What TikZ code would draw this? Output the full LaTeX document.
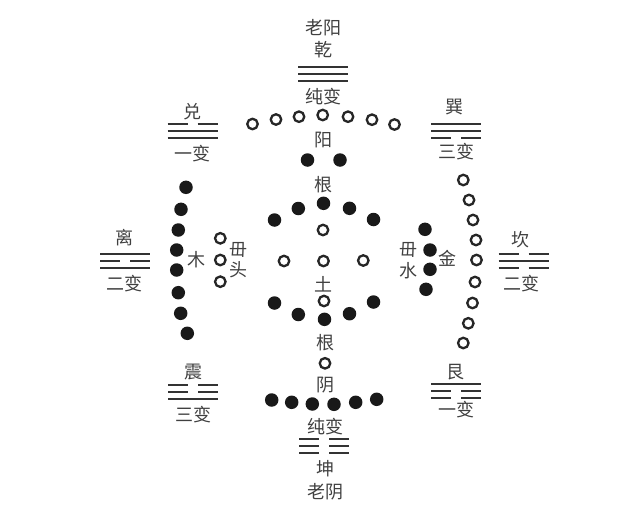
\documentclass[tikz,border=0pt]{standalone}
\usepackage{fontspec}
\setmainfont{Noto Sans CJK SC}
\usepackage{xcolor}
\usepackage{tikz}
\usetikzlibrary{positioning}

\newcommand{\yangyao}[2]{\draw[yao] (#1-25,#2) -- (#1+25,#2);}
\newcommand{\yinyao}[2]{\draw[yao] (#1-25,#2) -- (#1-5,#2) (#1+5,#2) -- (#1+25,#2);}

\begin{document}
\begin{tikzpicture}[x=1pt, y=-1pt, every node/.style={inner sep=0pt},
  word/.style={font=\fontsize{18}{18}\selectfont, text=black!75},
  yangdot/.style={circle, draw=black!85, line width=2.3pt, fill=white, minimum size=10.5pt},
  yindot/.style={circle, fill=black!90, minimum size=13.5pt},
  yao/.style={line width=2.3pt, black!80},
]
  \useasboundingbox (0,0) rectangle (640,522);

% Top: qian
  \node[word] (laoyang) at (323,28) {老阳};
  \node[word] (qian) at (323,50) {乾};
  \yangyao{323}{67} \yangyao{323}{74} \yangyao{323}{81}
  \node[word] (qian-bian) at (323,97) {纯变};

  \foreach \x/\y [count=\i] in {252.5/124, 276/119.5, 299/116.7, 322.7/115, 348/116.7, 372/119.7, 394.5/124.5}
    \node[yangdot] (top-\i) at (\x,\y) {};
  \node[word] (yang) at (323,140) {阳};
  \node[yindot] (yang-l) at (307.5,160) {};
  \node[yindot] (yang-r) at (340,160) {};
  \node[word] (gen-top) at (323,185) {根};

% Centre: tu
  \foreach \x/\y [count=\i] in {274.5/220, 298.3/208.5, 323.5/203.3, 349.5/208.3, 373.5/219.5}
    \node[yindot] (up-\i) at (\x,\y) {};
  \node[yangdot] (mid-up) at (323,230) {};
  \node[yangdot] (mid-l) at (284,261) {};
  \node[yangdot] (mid-c) at (323.5,261) {};
  \node[yangdot] (mid-r) at (363.3,260.5) {};
  \node[word] (tu) at (323.5,284) {土};
  \node[yangdot] (mid-down) at (324,301) {};
  \foreach \x/\y [count=\i] in {274.5/303, 298.3/314.5, 324.5/319.3, 349.5/313.7, 373.5/302}
    \node[yindot] (down-\i) at (\x,\y) {};

% Bottom: kun
  \node[word] (gen-bot) at (325,342.5) {根};
  \node[yangdot] (yin-dot) at (325,363.3) {};
  \node[word] (yin) at (325,385) {阴};
  \foreach \x/\y [count=\i] in {271.7/400, 291.7/402.3, 312.3/404, 334/404.3, 355.7/402.3, 376.7/399.3}
    \node[yindot] (bot-\i) at (\x,\y) {};
  \node[word] (kun-bian) at (325,426.7) {纯变};
  \yinyao{324}{439} \yinyao{324}{446} \yinyao{324}{453}
  \node[word] (kun) at (325,468.3) {坤};
  \node[word] (laoyin) at (325,491.7) {老阴};

% Left side: dui, li, zhen, mu
  \node[word] (dui) at (192.7,111.7) {兑};
  \yinyao{192.5}{124} \yangyao{192.5}{131} \yangyao{192.5}{138}
  \node[word] (dui-bian) at (192.5,154) {一变};

  \node[word] (li) at (124.3,237.3) {离};
  \yangyao{125}{254} \yinyao{125}{261} \yangyao{125}{268}
  \node[word] (li-bian) at (124.3,283.3) {二变};

  \node[word] (zhen) at (193.3,371.7) {震};
  \yinyao{193}{385} \yinyao{193}{392} \yangyao{193}{399}
  \node[word] (zhen-bian) at (193,415) {三变};

  \foreach \x/\y [count=\i] in {186/187.3, 181/209.3, 178.3/230, 176.7/250, 176.7/270, 178.3/292.7, 180.7/313.3, 187.3/333.3}
    \node[yindot] (left-\i) at (\x,\y) {};
  \node[word] (mu) at (196.7,260) {木};
  \foreach \y [count=\i] in {238.3, 260, 281.7}
    \node[yangdot] (mu-\i) at (220.3,\y) {};
  \node[word] (wu-tou-1) at (238.3,250) {毌};
  \node[word] (wu-tou-2) at (238.3,270) {头};

% Right side: xun, kan, gen, jin
  \node[word] (xun) at (454,106.7) {巽};
  \yangyao{456}{124} \yangyao{456}{131} \yinyao{456}{138}
  \node[word] (xun-bian) at (456,151.7) {三变};

  \node[word] (kan) at (520.5,240) {坎};
  \yinyao{523.5}{254} \yangyao{523.5}{261} \yinyao{523.5}{268}
  \node[word] (kan-bian) at (521,283.3) {二变};

  \node[word] (gen) at (455,371.7) {艮};
  \yangyao{456}{384} \yinyao{456}{391} \yinyao{456}{398}
  \node[word] (gen-bian) at (456,410) {一变};

  \foreach \x/\y [count=\i] in {463.3/180, 469/200, 473/220, 476/240, 476.5/260, 475/282, 472.5/303, 468.3/323.3, 463.3/343}
    \node[yangdot] (right-\i) at (\x,\y) {};
  \node[word] (wu-shui-1) at (408,250) {毌};
  \node[word] (wu-shui-2) at (408,271) {水};
  \foreach \x/\y [count=\i] in {425/229.3, 430/250, 430/269.3, 426/289.3}
    \node[yindot] (jin-\i) at (\x,\y) {};
  \node[word] (jin) at (447.5,258) {金};
\end{tikzpicture}
\end{document}
